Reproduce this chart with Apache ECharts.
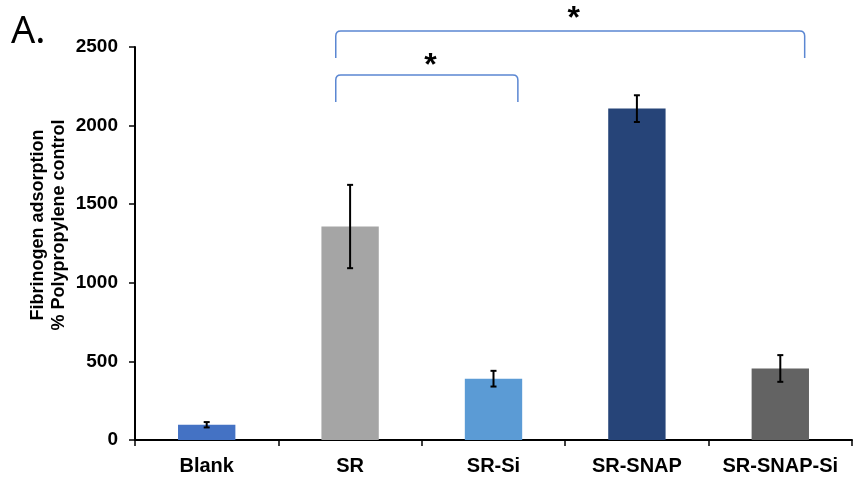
<!DOCTYPE html>
<html><head><meta charset="utf-8">
<script src="https://cdn.jsdelivr.net/npm/echarts@6/dist/echarts.min.js"></script>
<style>html,body{margin:0;padding:0;background:#fff}#c{width:853px;height:481px}</style>
</head><body><div id="c"></div>
<script>
const categories = ['Blank', 'SR', 'SR-Si', 'SR-SNAP', 'SR-SNAP-Si'];
const values = [97, 1358, 390, 2108, 455];
const errors = [17, 265, 50, 85, 85];
const colors = ['#4472C4', '#A5A5A5', '#5B9BD5', '#264478', '#636363'];
const yTicks = [0, 500, 1000, 1500, 2000, 2500];
const yName = 'Fibrinogen adsorption\n% Polypropylene control';
// brackets: [fromCategory, fromOffset, toCategory, toOffset, topValue, bottomValue]
const brackets = [
  [1, -0.1, 4, 0.17, 2602, 2430],
  [1, -0.1, 2, 0.17, 2322, 2150]
];
const stars = [[2.56, 2680], [1.56, 2376]];

const chart = echarts.init(document.getElementById('c'));
chart.setOption({
  animation: false,
  grid: { left: 135, right: 1, top: 47, bottom: 41 },
  graphic: [
    { type: 'text', left: 11, top: 13, style: { text: 'A.', font: '38px "Noto Sans"', fill: '#000' } },
    { type: 'text', x: 49, y: 225, rotation: Math.PI / 2,
      style: { text: yName, font: 'bold 18px "Liberation Sans"', lineHeight: 21, fill: '#000', align: 'center', verticalAlign: 'middle' } }
  ],
  xAxis: {
    type: 'category', data: categories,
    axisLine: { lineStyle: { color: '#000', width: 2 } },
    axisTick: { show: true, interval: 0, length: 6, lineStyle: { color: '#000', width: 1.5 } },
    axisLabel: { interval: 0, color: '#000', fontWeight: 'bold', fontSize: 20, fontFamily: 'Liberation Sans', margin: 16 }
  },
  yAxis: {
    type: 'value', min: yTicks[0], max: yTicks[yTicks.length - 1], interval: yTicks[1] - yTicks[0],
    axisLine: { show: true, lineStyle: { color: '#000', width: 2 } },
    axisTick: { show: true, length: 6, lineStyle: { color: '#000', width: 1.5 } },
    axisLabel: { color: '#000', fontWeight: 'bold', fontSize: 19, fontFamily: 'Liberation Sans', margin: 17, formatter: v => String(v) },
    splitLine: { show: false }
  },
  series: [
    {
      type: 'bar', barWidth: '40%',
      data: values.map((v, i) => ({ value: v, itemStyle: { color: colors[i] } }))
    },
    {
      type: 'custom', clip: false, z: 5,
      data: values.map((v, i) => [i, v, errors[i]]),
      renderItem: (params, api) => {
        const x = api.value(0), v = api.value(1), e = api.value(2);
        const top = api.coord([x, v + e]), bot = api.coord([x, v - e]);
        const w = 3;
        const s = { stroke: '#000', lineWidth: 2 };
        return { type: 'group', children: [
          { type: 'line', shape: { x1: top[0], y1: top[1], x2: bot[0], y2: bot[1] }, style: s },
          { type: 'line', shape: { x1: top[0] - w, y1: top[1], x2: top[0] + w, y2: top[1] }, style: s },
          { type: 'line', shape: { x1: bot[0] - w, y1: bot[1], x2: bot[0] + w, y2: bot[1] }, style: s }
        ]};
      }
    },
    {
      type: 'custom', clip: false, z: 5,
      data: brackets,
      renderItem: (params, api) => {
        const band = api.size([1, 0])[0];
        const a = api.coord([api.value(0), api.value(4)]);
        const b = api.coord([api.value(2), api.value(4)]);
        const yb = api.coord([api.value(0), api.value(5)])[1];
        const x1 = a[0] + api.value(1) * band, x2 = b[0] + api.value(3) * band;
        const y = a[1], r = 5;
        return { type: 'path', shape: { pathData:
          `M${x1} ${yb} L${x1} ${y + r} Q${x1} ${y} ${x1 + r} ${y} L${x2 - r} ${y} Q${x2} ${y} ${x2} ${y + r} L${x2} ${yb}` },
          style: { stroke: '#5B87D2', lineWidth: 1.5, fill: null } };
      }
    },
    {
      type: 'custom', clip: false, z: 5,
      data: stars,
      renderItem: (params, api) => {
        const band = api.size([1, 0])[0];
        const fi = api.value(0), base = Math.floor(fi);
        const p = api.coord([base, api.value(1)]);
        return { type: 'text', x: p[0] + (fi - base) * band, y: p[1],
          style: { text: '*', font: 'bold 32px "Liberation Sans"', fill: '#000', align: 'center', verticalAlign: 'middle' } };
      }
    }
  ]
});
</script></body></html>
